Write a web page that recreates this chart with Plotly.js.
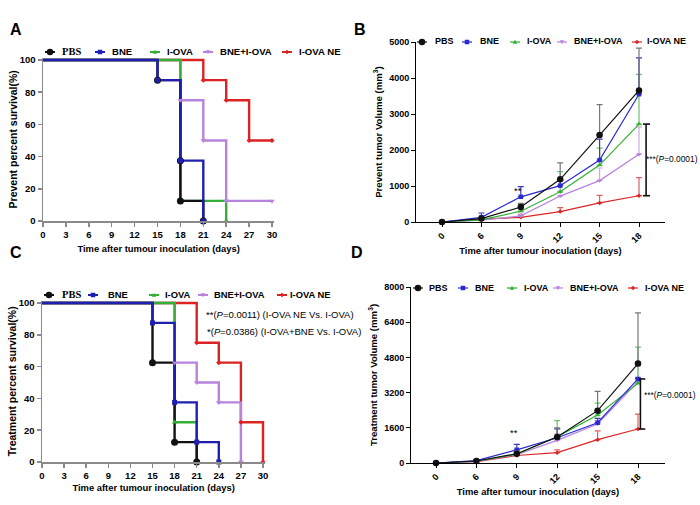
<!DOCTYPE html>
<html><head><meta charset="utf-8">
<script src="https://cdn.plot.ly/plotly-3.0.1.min.js"></script>
<style>html,body{margin:0;padding:0;background:#fff}#chart{width:700px;height:505px}</style>
</head><body><div id="chart"></div>
<script>
// ---------- DATA ----------
const groups = ['PBS', 'BNE', 'I-OVA', 'BNE+I-OVA', 'I-OVA NE'];

// Panel A: prevent survival (Kaplan-Meier steps)
const pbsPreventDays = [0, 15, 18, 18, 21];
const pbsPreventSurv = [100, 87.5, 37.5, 12.5, 0];
const bnePreventDays = [0, 15, 18, 21];
const bnePreventSurv = [100, 87.5, 37.5, 0];
const iovaPreventDays = [0, 18, 24];
const iovaPreventSurv = [100, 12.5, 0];
const bneIovaPreventDays = [0, 18, 21, 24, 30];
const bneIovaPreventSurv = [100, 75, 50, 12.5, 12.5];
const iovaNePreventDays = [0, 21, 24, 27, 30];
const iovaNePreventSurv = [100, 87.5, 75, 50, 50];

// Panel C: treatment survival
const pbsTreatDays = [0, 15, 18, 21];
const pbsTreatSurv = [100, 62.5, 12.5, 0];
const bneTreatDays = [0, 15, 18, 21, 24];
const bneTreatSurv = [100, 87.5, 37.5, 12.5, 0];
const iovaTreatDays = [0, 18, 21];
const iovaTreatSurv = [100, 25, 0];
const bneIovaTreatDays = [0, 18, 21, 24, 27];
const bneIovaTreatSurv = [100, 62.5, 50, 37.5, 0];
const iovaNeTreatDays = [0, 21, 24, 27, 30];
const iovaNeTreatSurv = [100, 75, 62.5, 25, 0];

// Panels B and D: tumour volume (mm^3), mean and upper SD
const volumeDays = ['0', '6', '9', '12', '15', '18'];
const pbsPreventVol = [0, 95, 415, 1185, 2415, 3655];
const pbsPreventErr = [0, 30, 100, 455, 845, 1175];
const bnePreventVol = [0, 130, 700, 1010, 1720, 3550];
const bnePreventErr = [0, 120, 280, 150, 580, 1010];
const iovaPreventVol = [0, 60, 300, 840, 1580, 2720];
const iovaPreventErr = [0, 40, 180, 560, 470, 1380];
const bneIovaPreventVol = [0, 50, 170, 720, 1150, 1880];
const bneIovaPreventErr = [0, 30, 80, 140, 350, 760];
const iovaNePreventVol = [0, 80, 130, 290, 530, 730];
const iovaNePreventErr = [0, 20, 70, 110, 210, 500];

const pbsTreatVol = [0, 90, 420, 1180, 2380, 4520];
const pbsTreatErr = [0, 30, 120, 420, 880, 2300];
const bneTreatVol = [0, 110, 600, 1150, 1830, 3820];
const bneTreatErr = [0, 40, 250, 400, 200, 50];
const iovaTreatVol = [0, 80, 400, 1200, 2180, 3620];
const iovaTreatErr = [0, 30, 180, 730, 540, 1650];
const bneIovaTreatVol = [0, 70, 380, 1030, 1770, 3700];
const bneIovaTreatErr = [0, 30, 120, 300, 150, 700];
const iovaNeTreatVol = [0, 60, 340, 470, 1060, 1545];
const iovaNeTreatErr = [0, 20, 60, 130, 400, 680];

// ---------- STYLE ----------
const W = 700, H = 505;
const PX = p => p / W;
const PY = p => 1 - p / H;
const SANS = 'Liberation Sans, Arial, sans-serif';
const SERIF = 'Liberation Serif, Times New Roman, serif';
const col = {'PBS': '#111111', 'BNE': '#1f1fb0', 'I-OVA': '#34b034', 'BNE+I-OVA': '#b883dc', 'I-OVA NE': '#dc2222'};
const volCol = {'PBS': '#111111', 'BNE': '#2a2ad0', 'I-OVA': '#30b030', 'BNE+I-OVA': '#b883dc', 'I-OVA NE': '#dc2525'};
const errCol = {'PBS': '#777777', 'BNE': '#3a3ab8', 'I-OVA': '#6cc46c', 'BNE+I-OVA': '#cfa8ec', 'I-OVA NE': '#e06060'};
const sym = {'PBS': 'circle', 'BNE': 'square', 'I-OVA': 'triangle-up', 'BNE+I-OVA': 'triangle-down', 'I-OVA NE': 'diamond'};
const msz = {'PBS': 7, 'BNE': 5, 'I-OVA': 5, 'BNE+I-OVA': 5, 'I-OVA NE': 4};

const traces = [];
function survLine(days, surv, name, xa, ya) {
  return {
    type: 'scatter', mode: 'lines', x: days, y: surv, name: name,
    xaxis: xa, yaxis: ya, showlegend: false,
    line: {shape: 'hv', color: col[name], width: 2.4}, hoverinfo: 'skip'
  };
}
function survMarks(days, surv, name, xa, ya) {
  return {
    type: 'scatter', mode: 'markers', x: days.slice(1), y: surv.slice(1), name: name,
    xaxis: xa, yaxis: ya, showlegend: false,
    marker: {symbol: sym[name], size: msz[name], color: col[name]},
    cliponaxis: false, hoverinfo: 'skip'
  };
}
function volTrace(vals, err, name, xa, ya) {
  return {
    type: 'scatter', mode: 'lines+markers', x: volumeDays, y: vals, name: name,
    xaxis: xa, yaxis: ya, showlegend: false,
    line: {color: volCol[name], width: 1.2},
    marker: {symbol: sym[name], size: msz[name] - 0.5, color: volCol[name]},
    error_y: {type: 'data', symmetric: false, array: err, arrayminus: err.map(() => 0),
              color: errCol[name], thickness: 1.2, width: 3},
    cliponaxis: false, hoverinfo: 'skip'
  };
}

// survival series, listed bottom -> top
const preventSurvSeries = [
  [iovaNePreventDays, iovaNePreventSurv, 'I-OVA NE'],
  [bneIovaPreventDays, bneIovaPreventSurv, 'BNE+I-OVA'],
  [iovaPreventDays, iovaPreventSurv, 'I-OVA'],
  [pbsPreventDays, pbsPreventSurv, 'PBS'],
  [bnePreventDays, bnePreventSurv, 'BNE']
];
const treatSurvSeries = [
  [iovaNeTreatDays, iovaNeTreatSurv, 'I-OVA NE'],
  [bneIovaTreatDays, bneIovaTreatSurv, 'BNE+I-OVA'],
  [iovaTreatDays, iovaTreatSurv, 'I-OVA'],
  [pbsTreatDays, pbsTreatSurv, 'PBS'],
  [bneTreatDays, bneTreatSurv, 'BNE']
];
preventSurvSeries.forEach(s => traces.push(survLine(s[0], s[1], s[2], 'x', 'y')));
preventSurvSeries.forEach(s => traces.push(survMarks(s[0], s[1], s[2], 'x', 'y')));
treatSurvSeries.forEach(s => traces.push(survLine(s[0], s[1], s[2], 'x3', 'y3')));
treatSurvSeries.forEach(s => traces.push(survMarks(s[0], s[1], s[2], 'x3', 'y3')));

// Panel B
traces.push(volTrace(iovaNePreventVol, iovaNePreventErr, 'I-OVA NE', 'x2', 'y2'));
traces.push(volTrace(bneIovaPreventVol, bneIovaPreventErr, 'BNE+I-OVA', 'x2', 'y2'));
traces.push(volTrace(iovaPreventVol, iovaPreventErr, 'I-OVA', 'x2', 'y2'));
traces.push(volTrace(bnePreventVol, bnePreventErr, 'BNE', 'x2', 'y2'));
traces.push(volTrace(pbsPreventVol, pbsPreventErr, 'PBS', 'x2', 'y2'));
// Panel D
traces.push(volTrace(iovaNeTreatVol, iovaNeTreatErr, 'I-OVA NE', 'x4', 'y4'));
traces.push(volTrace(bneIovaTreatVol, bneIovaTreatErr, 'BNE+I-OVA', 'x4', 'y4'));
traces.push(volTrace(iovaTreatVol, iovaTreatErr, 'I-OVA', 'x4', 'y4'));
traces.push(volTrace(bneTreatVol, bneTreatErr, 'BNE', 'x4', 'y4'));
traces.push(volTrace(pbsTreatVol, pbsTreatErr, 'PBS', 'x4', 'y4'));

// ---------- AXES ----------
const survTickFont = {family: SANS, size: 9.5, color: '#000', weight: 'bold'};
const volTickFont = {family: SANS, size: 9, color: '#000', weight: 'bold'};
function survX(px0, px30, anchor, standoff) {
  const k = (px30 - px0) / 30;
  return {
    domain: [PX(px0), PX(px0 + 30.3 * k)], range: [0, 30.3], anchor: anchor,
    tickmode: 'array', tickvals: [0, 3, 6, 9, 12, 15, 18, 21, 24, 27, 30],
    ticks: 'outside', ticklen: 4, tickwidth: 1.5, tickcolor: '#8a8a8a',
    showline: true, linecolor: '#8a8a8a', linewidth: 1.5, showgrid: false, zeroline: false,
    tickfont: survTickFont, fixedrange: true,
    title: {text: 'Time after tumour inoculation (days)', font: {family: SANS, size: 9.4, color: '#000', weight: 'bold'}, standoff: standoff}
  };
}
function survY(py0, py100, anchor, title) {
  const k = (py0 - py100) / 100;
  return {
    domain: [PY(py0), PY(py0 - 101.5 * k)], range: [0, 101.5], anchor: anchor,
    tickmode: 'array', tickvals: [0, 20, 40, 60, 80, 100],
    ticks: 'outside', ticklen: 4, tickwidth: 1.5, tickcolor: '#8a8a8a',
    showline: true, linecolor: '#8a8a8a', linewidth: 1.5, showgrid: false, zeroline: false,
    tickfont: survTickFont, fixedrange: true,
    title: {text: title, font: {family: SANS, size: 10.5, color: '#000', weight: 'bold'}, standoff: 0}
  };
}
function volX(pxL, pxR, pxFirst, step, anchor) {
  return {
    domain: [PX(pxL), PX(pxR)], type: 'category', anchor: anchor,
    range: [(pxL - pxFirst) / step, (pxR - pxFirst) / step],
    ticks: 'outside', ticklen: 4, tickwidth: 1, tickcolor: '#000', tickangle: -45,
    showline: true, linecolor: '#000', linewidth: 1, showgrid: false, zeroline: false,
    tickfont: volTickFont, fixedrange: true,
    title: {text: 'Time after tumour inoculation (days)', font: {family: SANS, size: 9.4, color: '#000', weight: 'bold'}, standoff: 0}
  };
}
function volY(pyTop, pyBottom, maxV, dtick, anchor, title) {
  return {
    domain: [PY(pyBottom), PY(pyTop)], range: [0, maxV], dtick: dtick, anchor: anchor,
    ticks: 'outside', ticklen: 4, tickwidth: 1, tickcolor: '#000',
    showline: true, linecolor: '#000', linewidth: 1, showgrid: false, zeroline: false,
    tickfont: volTickFont, fixedrange: true,
    title: {text: title, font: {family: SANS, size: 9.6, color: '#000', weight: 'bold'}, standoff: 4}
  };
}

// ---------- ANNOTATIONS / SHAPES ----------
const annFont = {family: SANS, size: 9.4, color: '#000'};
const annFontSmall = {family: SANS, size: 8.4, color: '#000'};
const letterFont = {family: SANS, size: 16, color: '#000', weight: 'bold'};
const annotations = [
  {text: 'A', xref: 'paper', yref: 'paper', x: PX(8), y: PY(19), showarrow: false, font: letterFont},
  {text: 'B', xref: 'paper', yref: 'paper', x: PX(360), y: PY(19), showarrow: false, font: letterFont},
  {text: 'C', xref: 'paper', yref: 'paper', x: PX(8), y: PY(252), showarrow: false, font: letterFont},
  {text: 'D', xref: 'paper', yref: 'paper', x: PX(357), y: PY(252), showarrow: false, font: letterFont},
  // Panel A stats
  {text: '*(<i>P</i>=0.0258)', xref: 'x', yref: 'y', x: 31.1, y: 33, xanchor: 'right', showarrow: false, font: annFont},
  {text: '***(<i>P</i>=0.003)', xref: 'x', yref: 'y', x: 33.2, y: 23.5, xanchor: 'left', showarrow: false, font: annFont},
  // Panel B stats
  {text: '***(<i>P</i>=0.0001)', xref: 'paper', yref: 'y2', x: PX(700), y: 1750, xanchor: 'right', showarrow: false, font: annFontSmall},
  {text: '**', xref: 'x2', yref: 'y2', x: 1.93, y: 870, showarrow: false, font: annFont},
  // Panel C stats
  {text: '**(<i>P</i>=0.0011) (I-OVA NE Vs. I-OVA)', xref: 'paper', yref: 'paper', x: PX(204), y: PY(314), xanchor: 'left', showarrow: false, font: {family: SANS, size: 9.5, color: '#000'}},
  {text: '*(<i>P</i>=0.0386) (I-OVA+BNE Vs. I-OVA)', xref: 'paper', yref: 'paper', x: PX(205), y: PY(331), xanchor: 'left', showarrow: false, font: {family: SANS, size: 9.5, color: '#000'}},
  // Panel D stats
  {text: '***(<i>P</i>=0.0001)', xref: 'x4', yref: 'y4', x: 5.1, y: 3080, xanchor: 'left', showarrow: false, font: annFontSmall},
  {text: '**', xref: 'x4', yref: 'y4', x: 1.93, y: 1380, showarrow: false, font: annFont}
];

function bracket(xa, ya, xv, xc0, xc1, yTop, yBot, color) {
  const l = {color: color, width: 1.6};
  return [
    {type: 'line', xref: xa, yref: ya, x0: xv, x1: xv, y0: yBot, y1: yTop, line: l},
    {type: 'line', xref: xa, yref: ya, x0: xc0, x1: xc1, y0: yTop, y1: yTop, line: l},
    {type: 'line', xref: xa, yref: ya, x0: xc0, x1: xc1, y0: yBot, y1: yBot, line: l}
  ];
}
const shapes = [].concat(
  bracket('x', 'y', 31.45, 31.0, 31.95, iovaNePreventSurv[4], bneIovaPreventSurv[4], '#333'),
  bracket('x', 'y', 33.0, 32.6, 33.45, iovaNePreventSurv[4], iovaPreventSurv[2], '#333'),
  bracket('x2', 'y2', 5.18, 5.1, 5.28, iovaPreventVol[5], iovaNePreventVol[5], '#111'),
  bracket('x4', 'y4', 5.06, 5.02, 5.18, bneTreatVol[5], iovaNeTreatVol[5], '#111')
);

// ---------- LEGENDS (one row per panel: glyph + label) ----------
function glyph(symbol, cx, cy, s, color) {
  const h = s / 2;
  const P = (x, y) => PX(x) + ',' + PY(y);
  const base = {xref: 'paper', yref: 'paper', fillcolor: color, line: {width: 0}};
  if (symbol === 'circle') return Object.assign({type: 'circle', x0: PX(cx - h), x1: PX(cx + h), y0: PY(cy + h), y1: PY(cy - h)}, base);
  if (symbol === 'square') return Object.assign({type: 'rect', x0: PX(cx - h), x1: PX(cx + h), y0: PY(cy + h), y1: PY(cy - h)}, base);
  let path;
  if (symbol === 'triangle-up') path = 'M' + P(cx - h, cy + h * 0.8) + 'L' + P(cx + h, cy + h * 0.8) + 'L' + P(cx, cy - h) + 'Z';
  else if (symbol === 'triangle-down') path = 'M' + P(cx - h, cy - h * 0.8) + 'L' + P(cx + h, cy - h * 0.8) + 'L' + P(cx, cy + h) + 'Z';
  else path = 'M' + P(cx - h, cy) + 'L' + P(cx, cy - h) + 'L' + P(cx + h, cy) + 'L' + P(cx, cy + h) + 'Z';
  return Object.assign({type: 'path', path: path}, base);
}
function addLegend(markX, textX, yc, colors, lineW, fontSize, pbsSerif) {
  groups.forEach((g, i) => {
    const c = colors[g];
    shapes.push({type: 'line', xref: 'paper', yref: 'paper', x0: PX(markX[i] - 5), x1: PX(markX[i] + 5),
                 y0: PY(yc), y1: PY(yc), line: {color: c, width: lineW}});
    shapes.push(glyph(sym[g], markX[i], yc, g === 'PBS' ? 6.5 : 4.5, c));
    const serif = pbsSerif && g === 'PBS';
    annotations.push({text: g, xref: 'paper', yref: 'paper', x: PX(textX[i]), y: PY(yc - 0.5),
      xanchor: 'left', yanchor: 'middle', showarrow: false,
      font: {family: serif ? SERIF : SANS, size: serif ? 10.5 : fontSize, color: '#000', weight: 'bold'}});
  });
}
addLegend([50, 100, 155, 208, 287], [60, 110, 165, 218, 297], 52, col, 2, 9.6, true);
addLegend([422, 467, 515, 562, 637], [433, 478, 525, 572, 645], 42, volCol, 1.2, 9, false);
addLegend([49, 93, 154, 203, 282], [60, 106, 163, 212, 288], 295, col, 2, 9.4, true);
addLegend([418, 463, 512, 558, 633], [427, 473, 522, 568, 643], 288, volCol, 1.2, 9, false);

const layout = {
  width: W, height: H, margin: {l: 0, r: 0, t: 0, b: 0},
  paper_bgcolor: '#fff', plot_bgcolor: 'rgba(0,0,0,0)', showlegend: false,
  font: {family: SANS, color: '#000'},
  xaxis: survX(43, 272, 'y', 6),
  yaxis: survY(221, 60, 'x', 'Prevent percent survival(%)'),
  xaxis2: volX(416, 665, 442, 39.4, 'y2'),
  yaxis2: volY(42, 222, 5000, 1000, 'x2', 'Prevent tumor Volume (mm<sup>3</sup>)'),
  xaxis3: survX(42, 263, 'y3', 4),
  yaxis3: survY(462, 303, 'x3', 'Treatment percent survival(%)'),
  xaxis4: volX(411, 665, 436, 40.4, 'y4'),
  yaxis4: volY(287, 463, 8000, 1600, 'x4', 'Treatment tumor Volume (mm<sup>3</sup>)'),
  annotations: annotations, shapes: shapes, hovermode: false
};

Plotly.newPlot('chart', traces, layout, {staticPlot: true, displayModeBar: false});
</script></body></html>
